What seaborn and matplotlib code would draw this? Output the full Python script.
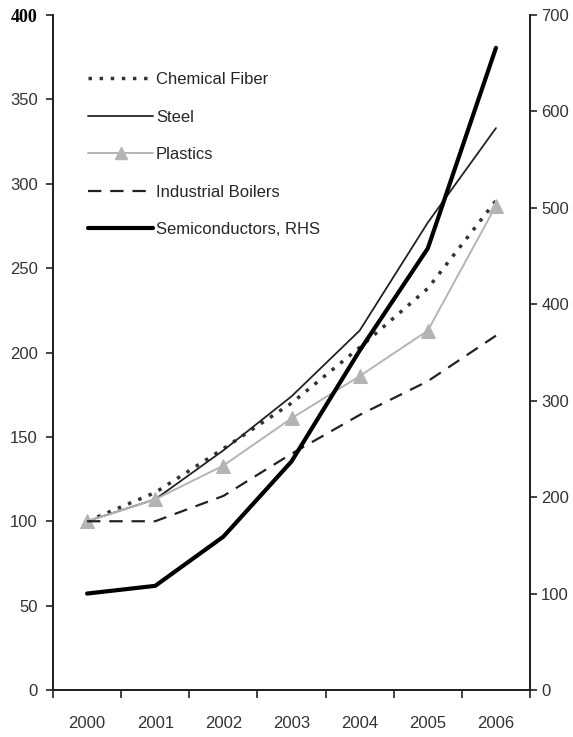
"""Recreate the output growth chart (index, 2000=100) with semiconductors on RHS."""
import matplotlib
matplotlib.use('Agg')
import matplotlib.pyplot as plt
import pandas as pd
import seaborn as sns
from matplotlib.lines import Line2D
from matplotlib.ticker import FixedLocator, NullFormatter

# data
years = ['2000', '2001', '2002', '2003', '2004', '2005', '2006']
chemical_fiber = [100, 117, 143, 170, 203, 238, 290]
steel = [100, 113, 142, 174, 213, 277, 333]
plastics = [100, 113, 133, 161, 186, 213, 287]
industrial_boilers = [100, 100, 115, 140, 163, 183, 210]
semiconductors_rhs = [100, 108, 159, 237, 352, 458, 666]

left_ticks = [0, 50, 100, 150, 200, 250, 300, 350, 400]
right_ticks = [0, 100, 200, 300, 400, 500, 600, 700]

pos = list(range(len(years)))
df = pd.DataFrame({
    'pos': pos,
    'Chemical Fiber': chemical_fiber,
    'Steel': steel,
    'Plastics': plastics,
    'Industrial Boilers': industrial_boilers,
    'Semiconductors, RHS': semiconductors_rhs,
})

sns.set_style('white')
plt.rcParams['font.family'] = ['Liberation Sans', 'DejaVu Sans']

fig = plt.figure(figsize=(5.73, 7.37), dpi=100)
ax = fig.add_axes([0.0925, 0.0638, 0.8325, 0.9158])
ax2 = ax.twinx()

dark = '#222222'
grey = '#b4b4b4'
dots = (0, (1.0, 2.2))

sns.lineplot(data=df, x='pos', y='Chemical Fiber', ax=ax, color='#333333',
             linewidth=2.5, linestyle=dots, dash_capstyle='butt')
sns.lineplot(data=df, x='pos', y='Steel', ax=ax, color=dark, linewidth=1.3)
sns.lineplot(data=df, x='pos', y='Plastics', ax=ax, color=grey, linewidth=1.4,
             marker='^', markersize=10, markeredgecolor=grey)
sns.lineplot(data=df, x='pos', y='Industrial Boilers', ax=ax, color=dark,
             linewidth=1.6, linestyle=(0, (6, 4)))
sns.lineplot(data=df, x='pos', y='Semiconductors, RHS', ax=ax2, color='black',
             linewidth=3.0)

# axes ranges
ax.set_xlim(-0.5, len(years) - 0.5)
ax.set_ylim(0, 400)
ax2.set_ylim(0, 700)
ax.set_xlabel('')
ax.set_ylabel('')
ax2.set_ylabel('')

# ticks at category boundaries, labels centred on categories
ax.xaxis.set_major_locator(FixedLocator([p - 0.5 for p in pos] + [pos[-1] + 0.5]))
ax.xaxis.set_major_formatter(NullFormatter())
ax.set_xticks(pos, labels=years, minor=True)
ax.tick_params(axis='x', which='major', direction='out', length=6, width=1.2,
               color=dark, bottom=True)
ax.tick_params(axis='x', which='minor', length=0, pad=19, labelsize=12,
               labelcolor='#333333')

ax.set_yticks(left_ticks, labels=[str(t) for t in left_ticks])
ax.tick_params(axis='y', direction='out', length=5, width=1.2, color=dark,
               left=True, labelsize=12, labelcolor='#333333', pad=6)
ax2.set_yticks(right_ticks)
ax2.tick_params(axis='y', direction='out', length=5, width=1.2, color=dark,
                right=True, labelsize=12, labelcolor='#333333', pad=3)

# the top left label is set in a bold serif face in the source
top_label = ax.get_yticklabels()[-1]
top_label.set_fontfamily('Liberation Serif')
top_label.set_fontweight('bold')
top_label.set_fontsize(13)
top_label.set_color('black')

for a in (ax, ax2):
    a.spines['top'].set_visible(False)
    for s in ['left', 'bottom', 'right']:
        a.spines[s].set_linewidth(1.4)
        a.spines[s].set_color(dark)
    a.grid(False)

handles = [
    Line2D([], [], color='#333333', linewidth=2.5, linestyle=dots,
           dash_capstyle='butt'),
    Line2D([], [], color=dark, linewidth=1.3),
    Line2D([], [], color=grey, linewidth=1.4, marker='^', markersize=9,
           markeredgecolor=grey),
    Line2D([], [], color=dark, linewidth=1.6, linestyle=(0, (6, 4))),
    Line2D([], [], color='black', linewidth=3.0),
]
labels = ['Chemical Fiber', 'Steel', 'Plastics', 'Industrial Boilers',
          'Semiconductors, RHS']
ax2.legend(handles, labels, loc='upper left', bbox_to_anchor=(0.06, 0.925),
           frameon=False, fontsize=12, handlelength=3.9, handletextpad=0.15,
           labelspacing=1.35, borderaxespad=0)

fig.savefig('out.png', dpi=100)
plt.close(fig)
